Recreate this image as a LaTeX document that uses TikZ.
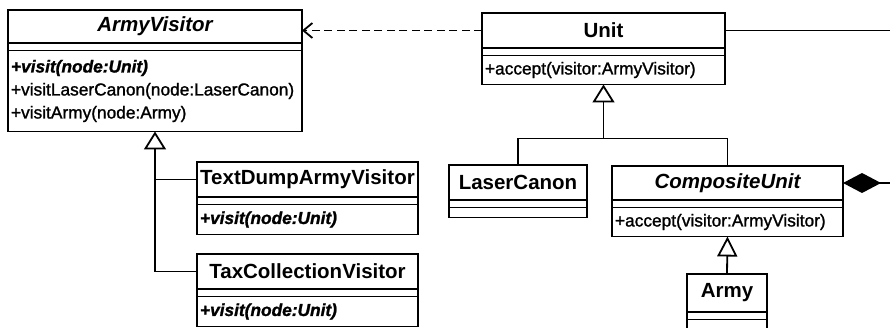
\documentclass[tikz,border=0pt]{standalone}
\usepackage{fontspec}
\setmainfont{Liberation Sans}
\newfontfamily\opsfont[FakeBold=1.3]{Liberation Sans}
\usetikzlibrary{positioning,arrows.meta}

\tikzset{
  classname/.style={draw, line width=1.5pt, outer sep=0pt, inner sep=0pt,
    font=\fontsize{20.5}{24}\selectfont\bfseries},
  abstractname/.style={classname, font=\fontsize{20.5}{24}\selectfont\bfseries\itshape},
  classgap/.style={draw, line width=1.5pt, outer sep=0pt, inner sep=0pt, minimum height=7.5pt},
  classops/.style={draw, line width=1.5pt, outer sep=0pt, inner xsep=3pt, inner ysep=0pt,
    align=left, font=\opsfont\fontsize{17.3}{23}\selectfont},
  link/.style={line width=1.8pt},
  inherit/.style={link, -{Triangle[open,length=18pt,width=22pt]}},
}

\begin{document}
\begin{tikzpicture}[x=1pt, y=-1pt]
  \useasboundingbox (0,0) rectangle (890,328);

  %	ArmyVisitor
  \node[abstractname, minimum width=294pt, minimum height=33pt, anchor=north west] (avtitle) at (8,10) {ArmyVisitor};
  \node[classgap, minimum width=294pt, below=0pt of avtitle] (avgap) {};
  \node[classops, text width=288pt, minimum height=81pt, below=0pt of avgap] (avops)
    {{\bfseries\itshape +visit(node:Unit)}\\+visitLaserCanon(node:LaserCanon)\\+visitArmy(node:Army)};

  %	Unit
  \node[classname, minimum width=243pt, minimum height=35pt, anchor=north west] (unittitle) at (482,13) {Unit};
  \node[classgap, minimum width=243pt, below=0pt of unittitle] (unitgap) {};
  \node[classops, text width=237pt, minimum height=29pt, below=0pt of unitgap] (unitops)
    {+accept(visitor:ArmyVisitor)};

  %	TextDumpArmyVisitor
  \node[classname, minimum width=221pt, minimum height=35pt, anchor=north west] (tdtitle) at (197,162) {TextDumpArmyVisitor};
  \node[classgap, minimum width=221pt, below=0pt of tdtitle] (tdgap) {};
  \node[classops, text width=215pt, minimum height=30pt, below=0pt of tdgap] (tdops)
    {\bfseries\itshape +visit(node:Unit)};

  %	TaxCollectionVisitor
  \node[classname, minimum width=221pt, minimum height=35pt, anchor=north west] (taxtitle) at (197,254) {TaxCollectionVisitor};
  \node[classgap, minimum width=221pt, below=0pt of taxtitle] (taxgap) {};
  \node[classops, text width=215pt, minimum height=30pt, below=0pt of taxgap] (taxops)
    {\bfseries\itshape +visit(node:Unit)};

  %	LaserCanon
  \node[classname, minimum width=138pt, minimum height=35pt, anchor=north west] (lasertitle) at (449,165) {LaserCanon};
  \node[classgap, minimum width=138pt, below=0pt of lasertitle] (lasergap) {};
  \node[classops, text width=132pt, minimum height=10pt, below=0pt of lasergap] (laserops) {};

  %	CompositeUnit
  \node[abstractname, minimum width=231pt, minimum height=34pt, anchor=north west] (comptitle) at (612,166) {CompositeUnit};
  \node[classgap, minimum width=231pt, below=0pt of comptitle] (compgap) {};
  \node[classops, text width=225pt, minimum height=29pt, below=0pt of compgap] (compops)
    {+accept(visitor:ArmyVisitor)};

  %	Army
  \node[classname, minimum width=80pt, minimum height=38pt, anchor=north west] (armytitle) at (687,274) {Army};
  \node[classgap, minimum width=80pt, below=0pt of armytitle] (armygap) {};
  \node[classops, text width=74pt, minimum height=14pt, below=0pt of armygap] (armyops) {};

  %	Dependency on the visitor
  \draw[link, dash pattern=on 8pt off 4.5pt, -{Straight Barb[length=9pt,width=15pt]}]
    (unittitle.west) -- (unittitle.west -| avtitle.east);

  %	Visitor subclasses
  \draw[inherit] (taxtitle.west) -| (avops.south);
  \draw[link] (tdtitle.west) -- (tdtitle.west -| avops.south);

  %	Unit subclasses
  \coordinate (unitjoin) at ([yshift=-54pt]unitops.south);
  \draw[inherit] (unitjoin) -- (unitops.south);
  \draw[link] (lasertitle.north) |- (unitjoin) -| (comptitle.north);

  %	Army is a CompositeUnit
  \draw[link, -{Triangle[open,length=20pt,width=20pt]}] (armytitle.north) -- (compops.south);

  %	Composition of units
  \coordinate (unitend) at (890,30.5);
  \draw[link] (unittitle.east) -- (unitend);
  \coordinate (compend) at (890,183);
  \draw[link, {Diamond[length=38pt,width=20pt]}-] (comptitle.east) -- (compend);
\end{tikzpicture}
\end{document}
